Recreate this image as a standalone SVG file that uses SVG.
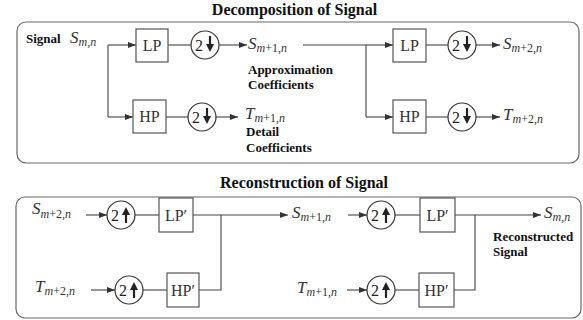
<svg xmlns="http://www.w3.org/2000/svg" width="583" height="320" viewBox="0 0 583 320">
<defs>
<style>
text{font-family:"Liberation Serif","Times New Roman",serif;fill:#222}
.title{font-size:16px;font-weight:bold;text-anchor:middle;fill:#111}
.lbl{font-size:13px;font-weight:bold;fill:#111}
.blk{font-size:16px;text-anchor:middle;fill:#333}
.var{font-size:17px;font-style:italic;fill:#333}
.sub{font-size:12px}
.it{font-style:italic}
.up{font-style:normal}
.frame{fill:none;stroke:#666;stroke-width:1.2}
.box{fill:#fff;stroke:#555;stroke-width:1.2}
.circ{fill:#fff;stroke:#333;stroke-width:1.2}
.two{font-size:16px;fill:#222}
.ln{fill:none;stroke:#444;stroke-width:1.1}
.ar{fill:none;stroke:#444;stroke-width:1.1;marker-end:url(#ah)}
.sym{fill:#222;stroke:none}
.stem{stroke:#222;stroke-width:2.2}
</style>
<marker id="ah" markerWidth="8" markerHeight="6" refX="8" refY="3" orient="auto" markerUnits="userSpaceOnUse"><path d="M0,0 L8,3 L0,6 z" fill="#333"/></marker>
<g id="down"><line class="stem" x1="0" y1="-8" x2="0" y2="1"/><path class="sym" d="M-4,0 L4,0 L0,8 z"/></g>
<g id="upa"><line class="stem" x1="0" y1="8" x2="0" y2="-1"/><path class="sym" d="M-4,0 L4,0 L0,-8 z"/></g>
</defs>
<rect width="583" height="320" fill="#fff"/>

<!-- Frames and titles -->
<g id="decomposition-frame">
<rect class="frame" x="17" y="22" width="562" height="141" rx="9"/>
<text class="title" x="294.5" y="15">Decomposition of Signal</text>
</g>
<g id="reconstruction-frame">
<rect class="frame" x="16" y="197" width="565" height="121" rx="9"/>
<text class="title" x="304" y="188">Reconstruction of Signal</text>
</g>

<!-- Connectors -->
<g id="connectors">
<!-- decomposition stage 1 -->
<path class="ln" d="M108,45 L108,117"/>
<path class="ar" d="M108,45 L136,45"/>
<path class="ar" d="M108,117 L133,117"/>
<path class="ln" d="M168,45 L191,45"/>
<path class="ln" d="M166,117 L188,117"/>
<path class="ar" d="M219,45 L247,45"/>
<path class="ar" d="M216,117 L238,117"/>
<!-- decomposition stage 2 -->
<path class="ln" d="M303,45 L366,45 L366,117"/>
<path class="ar" d="M366,45 L393,45"/>
<path class="ar" d="M366,117 L393,117"/>
<path class="ln" d="M426,45 L448,45"/>
<path class="ln" d="M426,117 L448,117"/>
<path class="ar" d="M476,45 L500,45"/>
<path class="ar" d="M476,117 L500,117"/>
<!-- reconstruction stage 1 -->
<path class="ar" d="M86,215 L107,215"/>
<path class="ar" d="M91,290 L115,290"/>
<path class="ln" d="M135,215 L159,215"/>
<path class="ln" d="M143,290 L167,290"/>
<path class="ar" d="M193,215 L288,215"/>
<path class="ln" d="M199,290 L221,290 L221,215"/>
<!-- reconstruction stage 2 -->
<path class="ar" d="M348,215 L367,215"/>
<path class="ar" d="M347,290 L367,290"/>
<path class="ln" d="M395,215 L420,215"/>
<path class="ln" d="M395,290 L419,290"/>
<path class="ar" d="M455,215 L541,215"/>
<path class="ln" d="M454,290 L475,290 L475,215"/>
</g>

<!-- Decomposition nodes -->
<g id="in-signal">
<text class="lbl" x="26" y="43">Signal</text>
<text class="var" x="70" y="43">S<tspan class="sub" dy="3">m,n</tspan></text>
</g>
<g id="lp1"><rect class="box" x="136" y="29" width="32" height="33"/><text class="blk" x="152" y="51">LP</text></g>
<g id="hp1"><rect class="box" x="133" y="100" width="33" height="33"/><text class="blk" x="149.5" y="122">HP</text></g>
<g id="ds1a"><circle class="circ" cx="205" cy="45" r="14"/><text class="two" x="195" y="51">2</text><use href="#down" x="210" y="44"/></g>
<g id="ds1b"><circle class="circ" cx="202" cy="117" r="14"/><text class="two" x="192" y="123">2</text><use href="#down" x="207" y="116"/></g>
<g id="s-m1">
<text class="var" x="248" y="49">S<tspan class="sub" dy="3"><tspan class="it">m</tspan><tspan class="up">+1,</tspan><tspan class="it">n</tspan></tspan></text>
<text class="lbl" x="248" y="74">Approximation</text>
<text class="lbl" x="248" y="89">Coefficients</text>
</g>
<g id="t-m1">
<text class="var" x="245" y="119">T<tspan class="sub" dy="3"><tspan class="it">m</tspan><tspan class="up">+1,</tspan><tspan class="it">n</tspan></tspan></text>
<text class="lbl" x="246" y="136">Detail</text>
<text class="lbl" x="246" y="152">Coefficients</text>
</g>
<g id="lp2"><rect class="box" x="393" y="29" width="33" height="33"/><text class="blk" x="409.5" y="51">LP</text></g>
<g id="hp2"><rect class="box" x="393" y="100" width="33" height="33"/><text class="blk" x="409.5" y="122">HP</text></g>
<g id="ds2a"><circle class="circ" cx="462" cy="45" r="14"/><text class="two" x="452" y="51">2</text><use href="#down" x="467" y="44"/></g>
<g id="ds2b"><circle class="circ" cx="462" cy="117" r="14"/><text class="two" x="452" y="123">2</text><use href="#down" x="467" y="116"/></g>
<g id="s-m2"><text class="var" x="503" y="49">S<tspan class="sub" dy="3"><tspan class="it">m</tspan><tspan class="up">+2,</tspan><tspan class="it">n</tspan></tspan></text></g>
<g id="t-m2"><text class="var" x="503" y="120">T<tspan class="sub" dy="3"><tspan class="it">m</tspan><tspan class="up">+2,</tspan><tspan class="it">n</tspan></tspan></text></g>

<!-- Reconstruction nodes -->
<g id="r-s-m2"><text class="var" x="32" y="214">S<tspan class="sub" dy="4"><tspan class="it">m</tspan><tspan class="up">+2,</tspan><tspan class="it">n</tspan></tspan></text></g>
<g id="r-t-m2"><text class="var" x="35" y="292">T<tspan class="sub" dy="3"><tspan class="it">m</tspan><tspan class="up">+2,</tspan><tspan class="it">n</tspan></tspan></text></g>
<g id="us1a"><circle class="circ" cx="121" cy="215" r="14"/><text class="two" x="111" y="221">2</text><use href="#upa" x="126" y="215"/></g>
<g id="us1b"><circle class="circ" cx="129" cy="290" r="14"/><text class="two" x="119" y="296">2</text><use href="#upa" x="134" y="290"/></g>
<g id="lpp1"><rect class="box" x="159" y="198" width="34" height="34"/><text class="blk" x="176" y="221">LP′</text></g>
<g id="hpp1"><rect class="box" x="167" y="273" width="32" height="34"/><text class="blk" x="183" y="296">HP′</text></g>
<g id="r-s-m1"><text class="var" x="292" y="218">S<tspan class="sub" dy="3"><tspan class="it">m</tspan><tspan class="up">+1,</tspan><tspan class="it">n</tspan></tspan></text></g>
<g id="r-t-m1"><text class="var" x="297" y="293">T<tspan class="sub" dy="3"><tspan class="it">m</tspan><tspan class="up">+1,</tspan><tspan class="it">n</tspan></tspan></text></g>
<g id="us2a"><circle class="circ" cx="381" cy="215" r="14"/><text class="two" x="371" y="221">2</text><use href="#upa" x="386" y="215"/></g>
<g id="us2b"><circle class="circ" cx="381" cy="290" r="14"/><text class="two" x="371" y="296">2</text><use href="#upa" x="386" y="290"/></g>
<g id="lpp2"><rect class="box" x="420" y="198" width="35" height="34"/><text class="blk" x="437.5" y="221">LP′</text></g>
<g id="hpp2"><rect class="box" x="419" y="273" width="35" height="34"/><text class="blk" x="436.5" y="296">HP′</text></g>
<g id="out-signal">
<text class="var" x="544" y="218">S<tspan class="sub" dy="3">m,n</tspan></text>
<text class="lbl" x="493" y="241">Reconstructed</text>
<text class="lbl" x="493" y="256">Signal</text>
</g>
</svg>
